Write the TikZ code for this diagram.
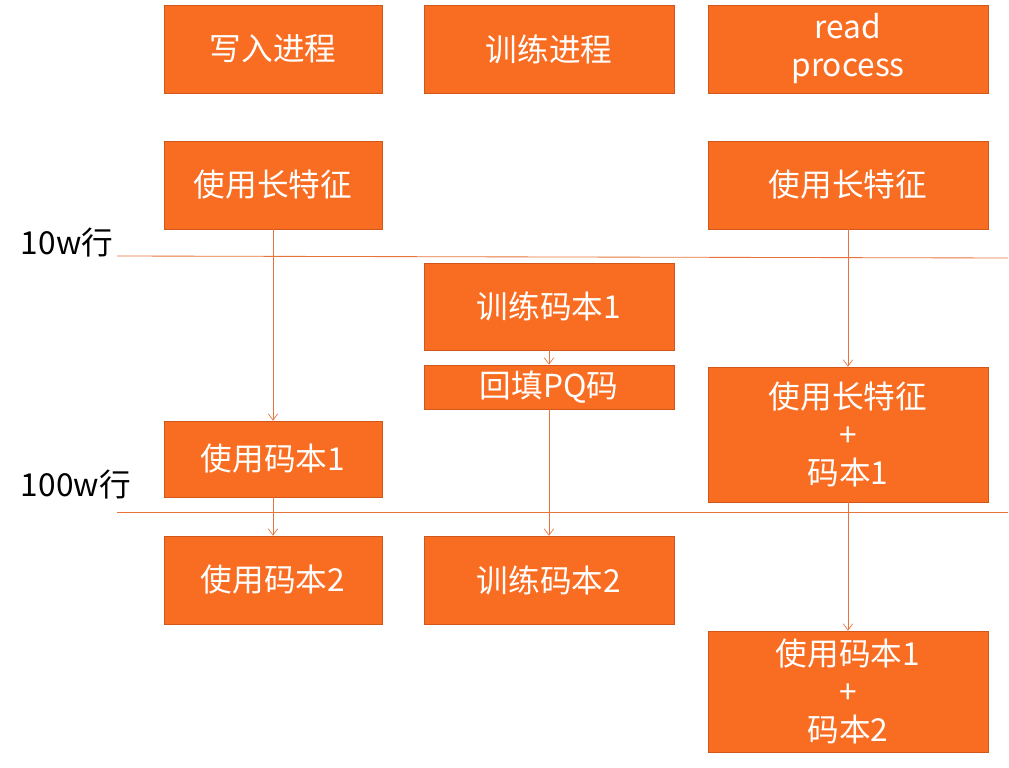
\documentclass[tikz,border=0pt]{standalone}
\usepackage{fontspec}
\setmainfont{Noto Sans CJK SC}
\usetikzlibrary{positioning,arrows.meta}
\definecolor{boxfill}{HTML}{F96D22}
\definecolor{boxline}{HTML}{D0561A}
\definecolor{linkline}{HTML}{E8743B}

\begin{document}
\begin{tikzpicture}[x=0.025cm, y=-0.025cm, >={Straight Barb[length=1.6mm,width=2.4mm]},
    proc/.style={draw=boxline, fill=boxfill, text=white, align=center, inner sep=0pt,
      font=\fontsize{22.5}{27}\selectfont},
    link/.style={->, draw=linkline, line width=0.5pt},
    level/.style={draw=linkline, line width=0.6pt}]
  \useasboundingbox (0,0) rectangle (1009,768);
  % process headers
  \node[proc, minimum width=218*0.025cm, minimum height=88*0.025cm] (write) at (273,49) {写入进程};
  \node[proc, minimum width=250*0.025cm, minimum height=88*0.025cm] (train) at (549,49) {训练进程};
  \node[proc, minimum width=280*0.025cm, minimum height=88*0.025cm] (read) at (848,49) {read\\process};
  % first stage
  \node[proc, minimum width=218*0.025cm, minimum height=88*0.025cm] (wlong) at (273,185) {使用长特征};
  \node[proc, minimum width=280*0.025cm, minimum height=88*0.025cm] (rlong) at (848,185) {使用长特征};
  % 10w line
  \node[anchor=west, font=\fontsize{22.5}{27}\selectfont] (w10) at (16,243) {10w行};
  \coordinate (l10a) at (117,256);
  \coordinate (l10b) at (1008,258);
  \draw[level] (l10a) -- (l10b);
  % training codebook 1
  \node[proc, minimum width=250*0.025cm, minimum height=87*0.025cm] (tcb1) at (549,306.5) {训练码本1};
  \node[proc, minimum width=250*0.025cm, minimum height=44*0.025cm] (fill) at (549,387) {回填PQ码};
  \node[proc, minimum width=218*0.025cm, minimum height=76*0.025cm] (wcb1) at (273,459) {使用码本1};
  \node[proc, minimum width=280*0.025cm, minimum height=135*0.025cm] (rcb1) at (848,434.5) {使用长特征\\+\\码本1};
  % 100w line
  \node[anchor=west, font=\fontsize{22.5}{27}\selectfont] (w100) at (16,485) {100w行};
  \coordinate (l100a) at (117,512);
  \coordinate (l100b) at (1008,512);
  \draw[level] (l100a) -- (l100b);
  % second stage
  \node[proc, minimum width=218*0.025cm, minimum height=88*0.025cm] (wcb2) at (273,580) {使用码本2};
  \node[proc, minimum width=250*0.025cm, minimum height=88*0.025cm] (tcb2) at (549,580) {训练码本2};
  \node[proc, minimum width=280*0.025cm, minimum height=121*0.025cm] (rcb2) at (848,691.5) {使用码本1\\+\\码本2};
  % arrows
  \draw[link] (wlong) -- (wcb1);
  \draw[link] (wcb1) -- (wcb2);
  \draw[link] (tcb1) -- (fill);
  \draw[link] (fill) -- (tcb2);
  \draw[link] (rlong) -- (rcb1);
  \draw[link] (rcb1) -- (rcb2);
\end{tikzpicture}
\end{document}
